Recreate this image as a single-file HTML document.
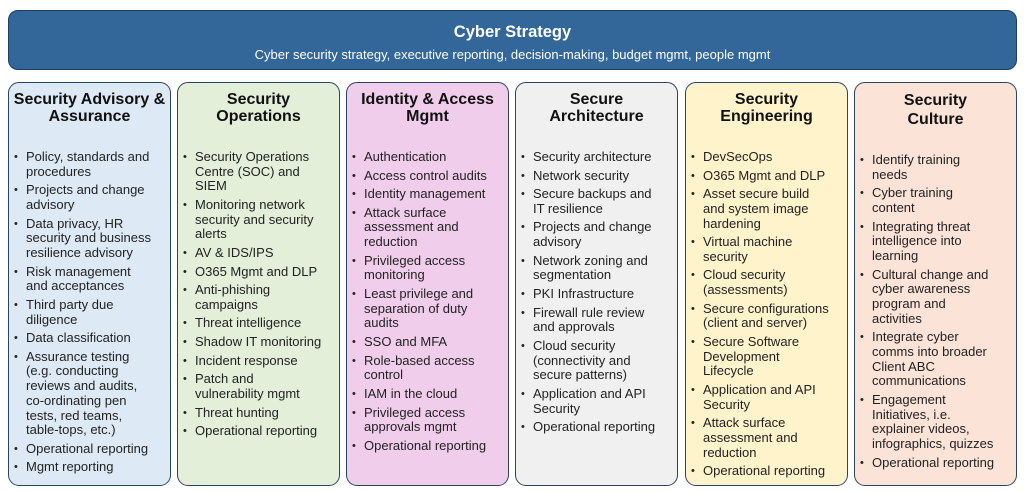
<!DOCTYPE html>
<html><head><meta charset="utf-8"><style>
body{margin:0;width:1024px;height:492px;background:#fff;position:relative;overflow:hidden;font-family:"Liberation Sans",sans-serif;color:#222}
.ban{position:absolute;left:8px;top:10px;width:1007px;height:58px;background:#336699;border:1.5px solid #1f3f5f;border-radius:10px;color:#fff;text-align:center}
.ban .t{font-weight:bold;font-size:16.5px;margin-top:12px}
.ban .s{font-size:13px;margin-top:5px}
.col{position:absolute;top:82px;height:404px;width:163px;border:1.5px solid #2b4560;border-radius:11px;box-sizing:border-box}
.col h{display:block;text-align:center;font-weight:bold;font-size:16px;line-height:17px;margin-top:8px;color:#111}
ul{list-style:none;margin:0;padding:0;position:absolute;left:17px;top:67px;font-size:13px;line-height:14.7px;white-space:nowrap}
li{position:relative;margin-bottom:3.9px}
li:before{content:"•";position:absolute;left:-12px;font-size:11px}
</style></head><body>
<div class="ban"><div class="t">Cyber Strategy</div><div class="s">Cyber security strategy, executive reporting, decision-making, budget mgmt, people mgmt</div></div>

<div class="col" style="left:8px;background:#dde9f5"><h>Security Advisory &amp;<br>Assurance</h>
<ul><li>Policy, standards and<br>procedures</li><li>Projects and change<br>advisory</li><li>Data privacy, HR<br>security and business<br>resilience advisory</li><li>Risk management<br>and acceptances</li><li>Third party due<br>diligence</li><li>Data classification</li><li>Assurance testing<br>(e.g. conducting<br>reviews and audits,<br>co-ordinating pen<br>tests, red teams,<br>table-tops, etc.)</li><li>Operational reporting</li><li>Mgmt reporting</li></ul></div>

<div class="col" style="left:177px;background:#e3efd9"><h>Security<br>Operations</h>
<ul><li>Security Operations<br>Centre (SOC) and<br>SIEM</li><li>Monitoring network<br>security and security<br>alerts</li><li>AV &amp; IDS/IPS</li><li>O365 Mgmt and DLP</li><li>Anti-phishing<br>campaigns</li><li>Threat intelligence</li><li>Shadow IT monitoring</li><li>Incident response</li><li>Patch and<br>vulnerability mgmt</li><li>Threat hunting</li><li>Operational reporting</li></ul></div>

<div class="col" style="left:346px;background:#f0cdeb"><h>Identity &amp; Access<br>Mgmt</h>
<ul><li>Authentication</li><li>Access control audits</li><li>Identity management</li><li>Attack surface<br>assessment and<br>reduction</li><li>Privileged access<br>monitoring</li><li>Least privilege and<br>separation of duty<br>audits</li><li>SSO and MFA</li><li>Role-based access<br>control</li><li>IAM in the cloud</li><li>Privileged access<br>approvals mgmt</li><li>Operational reporting</li></ul></div>

<div class="col" style="left:515px;background:#f0f0f0"><h>Secure<br>Architecture</h>
<ul><li>Security architecture</li><li>Network security</li><li>Secure backups and<br>IT resilience</li><li>Projects and change<br>advisory</li><li>Network zoning and<br>segmentation</li><li>PKI Infrastructure</li><li>Firewall rule review<br>and approvals</li><li>Cloud security<br>(connectivity and<br>secure patterns)</li><li>Application and API<br>Security</li><li>Operational reporting</li></ul></div>

<div class="col" style="left:685px;background:#fff3cc"><h>Security<br>Engineering</h>
<ul><li>DevSecOps</li><li>O365 Mgmt and DLP</li><li>Asset secure build<br>and system image<br>hardening</li><li>Virtual machine<br>security</li><li>Cloud security<br>(assessments)</li><li>Secure configurations<br>(client and server)</li><li>Secure Software<br>Development<br>Lifecycle</li><li>Application and API<br>Security</li><li>Attack surface<br>assessment and<br>reduction</li><li>Operational reporting</li></ul></div>

<div class="col" style="left:854px;background:#fbe3d8"><h style="margin-top:8px;line-height:19px">Security<br>Culture</h>
<ul style="top:70px"><li>Identify training<br>needs</li><li>Cyber training<br>content</li><li>Integrating threat<br>intelligence into<br>learning</li><li>Cultural change and<br>cyber awareness<br>program and<br>activities</li><li>Integrate cyber<br>comms into broader<br>Client ABC<br>communications</li><li>Engagement<br>Initiatives, i.e.<br>explainer videos,<br>infographics, quizzes</li><li>Operational reporting</li></ul></div>
</body></html>
